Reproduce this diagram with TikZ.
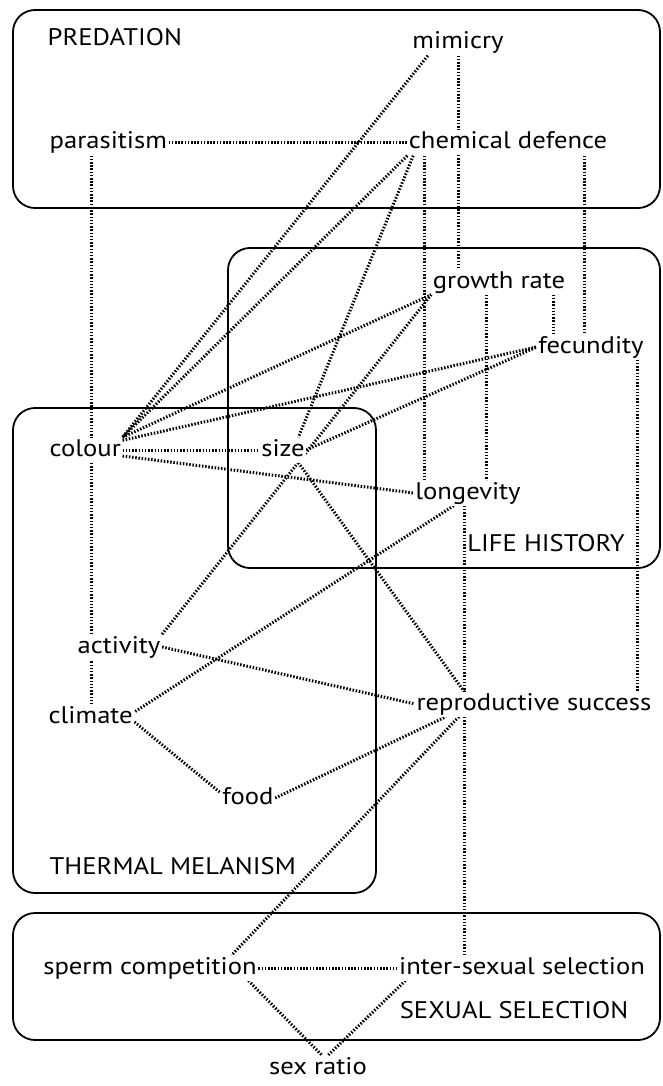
\documentclass[tikz,border=0pt]{standalone}
\usepackage{fontspec}
\setmainfont{PT Sans}[FakeStretch=1.11]
\usetikzlibrary{backgrounds}
\begin{document}
\begin{tikzpicture}[x=1pt,y=-1pt,
  lbl/.style={font=\fontsize{24}{28}\selectfont, fill=white, inner sep=1.5pt, text height=17pt, text depth=5pt},
  grp/.style={draw=black, line width=1.8pt, rounded corners=22pt},
  link/.style={draw=black, line width=3pt, dash pattern=on 1.5pt off 1.7pt}]
\useasboundingbox (0,0) rectangle (662,1086);
% group frames
\draw[grp] (13,10) rectangle (660,208);
\draw[grp] (228,248) rectangle (660,568);
\draw[grp] (13,408) rectangle (376,893);
\draw[grp] (13,913) rectangle (660,1040);
% group titles
\node[lbl,anchor=west] (tPred) at (46,40) {PREDATION};
\node[lbl] (tLife) at (546,545) {LIFE HISTORY};
\node[lbl,anchor=west] (tTherm) at (48,868) {THERMAL MELANISM};
\node[lbl] (tSex) at (514,1012) {SEXUAL SELECTION};
% nodes
\node[lbl] (mimicry) at (458,43) {mimicry};
\node[lbl,anchor=west] (parasitism) at (48,143) {parasitism};
\node[lbl] (chem) at (508,143) {chemical defence};
\node[lbl] (growth) at (499,282) {growth rate};
\node[lbl] (fecundity) at (591,347) {fecundity};
\node[lbl,anchor=west] (colour) at (48,450) {colour};
\node[lbl] (size) at (283,450) {size};
\node[lbl] (longevity) at (468,493) {longevity};
\node[lbl] (activity) at (119,647) {activity};
\node[lbl,anchor=west] (climate) at (47,717) {climate};
\node[lbl] (repro) at (534,704) {reproductive success};
\node[lbl] (food) at (248,798) {food};
\node[lbl] (sperm) at (150,968) {sperm competition};
\node[lbl] (inter) at (522,968) {inter-sexual selection};
\node[lbl] (sexratio) at (318,1068) {sex ratio};
% x positions of vertical connectors
\coordinate (vPar) at (91,0);
\coordinate (vChemL) at (424,0);
\coordinate (vMim) at (458,0);
\coordinate (vLong) at (464,0);
\coordinate (vGrL) at (486,0);
\coordinate (vGrF) at (553,0);
\coordinate (vChemF) at (584,0);
\coordinate (vFec) at (637,0);
\begin{scope}[on background layer]
\draw[link] (parasitism) -- (chem);
\draw[link] (parasitism.south -| vPar) -- (climate.north -| vPar);
\draw[link] (mimicry.south -| vMim) -- (growth.north -| vMim);
\draw[link] (chem.south -| vChemL) -- (longevity.north -| vChemL);
\draw[link] (chem.south -| vChemF) -- (fecundity.north -| vChemF);
\draw[link] (growth.south -| vGrL) -- (longevity.north -| vGrL);
\draw[link] (growth.south -| vGrF) -- (fecundity.north -| vGrF);
\draw[link] (fecundity.south -| vFec) -- (repro.north -| vFec);
\draw[link] (longevity.south -| vLong) -- (inter.north -| vLong);
\draw[link] ([xshift=17pt]mimicry.south west) -- (colour.north east);
\draw[link] (chem.south west) -- (colour.north east);
\draw[link] ([xshift=6pt]chem.south west) -- ([xshift=-8pt]size.north east);
\draw[link] (colour.north east) -- (growth.south west);
\draw[link] ([yshift=-3pt]colour.north east) -- (fecundity.west);
\draw[link] (colour) -- (size);
\draw[link] ([yshift=-6pt]colour.east) -- (longevity.west);
\draw[link] (size.east) -- (fecundity.west);
\draw[link] ([xshift=-8pt]size.south east) -- (repro.north -| vLong);
\draw[link] (activity.north east) -- (growth.south west);
\draw[link] (activity.east) -- (repro.west);
\draw[link] ([xshift=40pt]longevity.south west) -- ([yshift=5pt]climate.east);
\draw[link] ([yshift=-5pt]climate.east) -- ([yshift=5pt]food.west);
\draw[link] (food.east) -- ([xshift=31pt]repro.south west);
\draw[link] ([xshift=44pt]repro.south west) -- ([xshift=-27pt]sperm.north east);
\draw[link] (sperm) -- (inter);
\draw[link] ([xshift=-10pt]sperm.south east) -- ([xshift=4pt]sexratio.north);
\draw[link] ([xshift=8pt]inter.south west) -- ([xshift=10pt]sexratio.north);
\end{scope}
\end{tikzpicture}
\end{document}
